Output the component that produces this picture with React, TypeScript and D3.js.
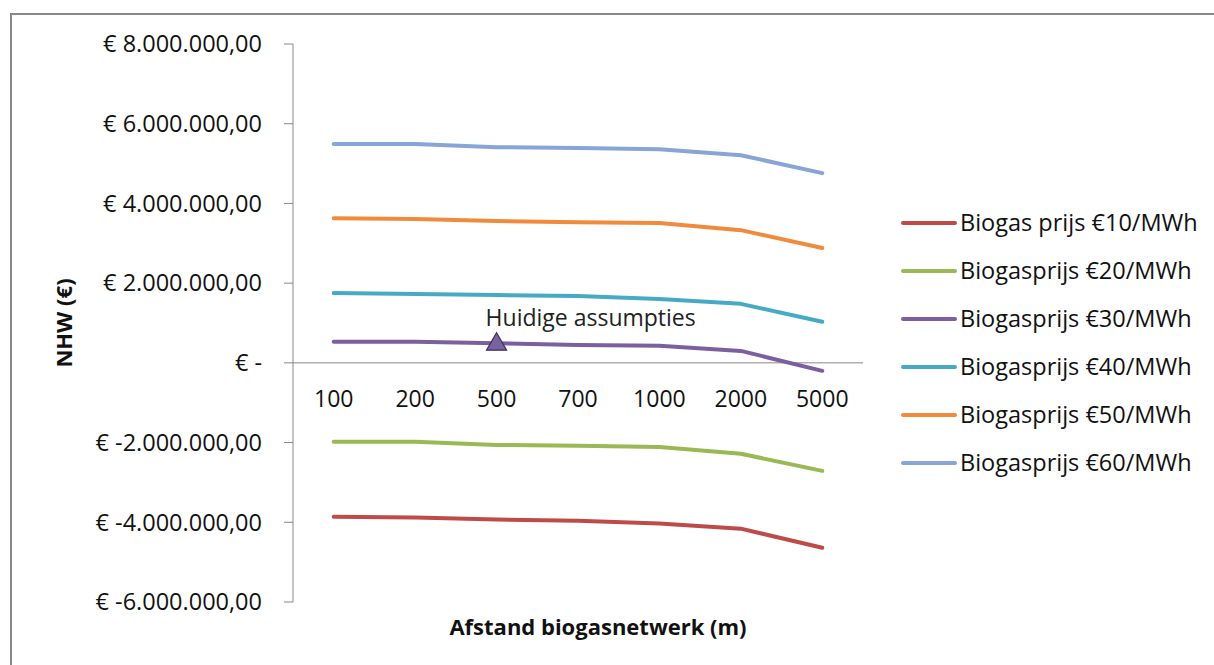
import React, { useEffect, useRef } from "react";
import * as d3 from "d3";

const categories = ["100", "200", "500", "700", "1000", "2000", "5000"];
const seriesNames = [
  "Biogas prijs €10/MWh",
  "Biogasprijs €20/MWh",
  "Biogasprijs €30/MWh",
  "Biogasprijs €40/MWh",
  "Biogasprijs €50/MWh",
  "Biogasprijs €60/MWh",
];
const s10 = [-3860000, -3880000, -3930000, -3960000, -4030000, -4160000, -4640000];
const s20 = [-1980000, -1980000, -2060000, -2080000, -2110000, -2280000, -2710000];
const s30 = [530000, 530000, 490000, 450000, 430000, 300000, -200000];
const s40 = [1750000, 1730000, 1700000, 1680000, 1600000, 1480000, 1030000];
const s50 = [3630000, 3610000, 3560000, 3530000, 3510000, 3330000, 2880000];
const s60 = [5490000, 5490000, 5410000, 5390000, 5360000, 5210000, 4760000];
const seriesValues = [s10, s20, s30, s40, s50, s60];
const colors = ["#be4b48", "#98b954", "#7d5fa0", "#46aac4", "#f08a3c", "#87a5d6"];
const yTicks = [8000000, 6000000, 4000000, 2000000, 0, -2000000, -4000000, -6000000];
const markerCategory = "500";
const markerValue = 490000;
const markerLabel = "Huidige assumpties";

function fmt(v: number): string {
  if (v === 0) return "€ -";
  const abs = Math.abs(v);
  const s = d3.format(",.2f")(abs).replace(/,/g, "X").replace(".", ",").replace(/X/g, ".");
  return "€ " + (v < 0 ? "-" : "") + s;
}

export default function App() {
  const ref = useRef<SVGSVGElement>(null);
  useEffect(() => {
    const svg = d3.select(ref.current);
    svg.selectAll("*").remove();
    const font = "Open Sans, sans-serif";
    const left = 293, right = 863, top = 44, bottom = 602;

    svg.append("rect").attr("x", 11).attr("y", 14).attr("width", 1230).attr("height", 700)
      .attr("fill", "white").attr("stroke", "#888").attr("stroke-width", 2);

    const x = d3.scalePoint<string>().domain(categories).range([left, right]).padding(0.5);
    const y = d3.scaleLinear().domain([-6000000, 8000000]).range([bottom, top]);

    // y axis
    svg.append("line").attr("x1", left).attr("x2", left).attr("y1", top).attr("y2", bottom)
      .attr("stroke", "#888").attr("stroke-width", 1);
    const yt = svg.append("g");
    yTicks.forEach((t) => {
      yt.append("line").attr("x1", left - 9).attr("x2", left).attr("y1", y(t)).attr("y2", y(t))
        .attr("stroke", "#888");
      yt.append("text").attr("x", 262).attr("y", y(t)).attr("dy", "0.35em")
        .attr("text-anchor", "end").attr("font-family", font).attr("font-size", 23.5)
        .attr("fill", "#111").text(fmt(t));
    });
    // x axis at zero
    svg.append("line").attr("x1", left).attr("x2", right).attr("y1", y(0)).attr("y2", y(0))
      .attr("stroke", "#888");
    categories.forEach((c) => {
      svg.append("text").attr("x", x(c)!).attr("y", 399).attr("dy", "0.35em")
        .attr("text-anchor", "middle").attr("font-family", font).attr("font-size", 23)
        .attr("fill", "#111").text(c);
    });

    const line = d3.line<number>().x((_, i) => x(categories[i])!).y((d) => y(d));
    seriesValues.forEach((vals, i) => {
      svg.append("path").attr("d", line(vals)!).attr("fill", "none")
        .attr("stroke", colors[i]).attr("stroke-width", 4).attr("stroke-linecap", "round")
        .attr("stroke-linejoin", "round");
    });

    // marker
    const mx = x(markerCategory)!, my = y(markerValue);
    const tri = d3.symbol().type(d3.symbolTriangle).size(175);
    svg.append("path").attr("d", tri()!).attr("transform", `translate(${mx},${my + 1})`)
      .attr("fill", "#7a62a0").attr("stroke", "#3d2e5a").attr("stroke-width", 1.2);
    svg.append("text").attr("x", mx - 11).attr("y", my - 25).attr("dy", "0.35em")
      .attr("font-family", font).attr("font-size", 23).attr("fill", "#222").text(markerLabel);

    // axis titles
    svg.append("text").attr("transform", `translate(64,${(top + bottom) / 2}) rotate(-90)`)
      .attr("text-anchor", "middle").attr("dy", "0.35em").attr("font-family", font)
      .attr("font-weight", "bold").attr("font-size", 22).attr("fill", "#111").text("NHW (€)");
    svg.append("text").attr("x", 598).attr("y", 627).attr("dy", "0.35em")
      .attr("text-anchor", "middle").attr("font-family", font).attr("font-weight", "bold")
      .attr("font-size", 22).attr("fill", "#111").text("Afstand biogasnetwerk (m)");

    // legend
    const lg = svg.append("g");
    seriesNames.forEach((n, i) => {
      const ly = 223 + i * 48;
      lg.append("line").attr("x1", 903).attr("x2", 955).attr("y1", ly).attr("y2", ly)
        .attr("stroke", colors[i]).attr("stroke-width", 4).attr("stroke-linecap", "round");
      lg.append("text").attr("x", 960).attr("y", ly).attr("dy", "0.35em")
        .attr("font-family", font).attr("font-size", 23.5).attr("fill", "#111").text(n);
    });
  }, []);
  return <svg ref={ref} width={1214} height={665} style={{ position: "absolute", left: 0, top: 0 }} />;
}
